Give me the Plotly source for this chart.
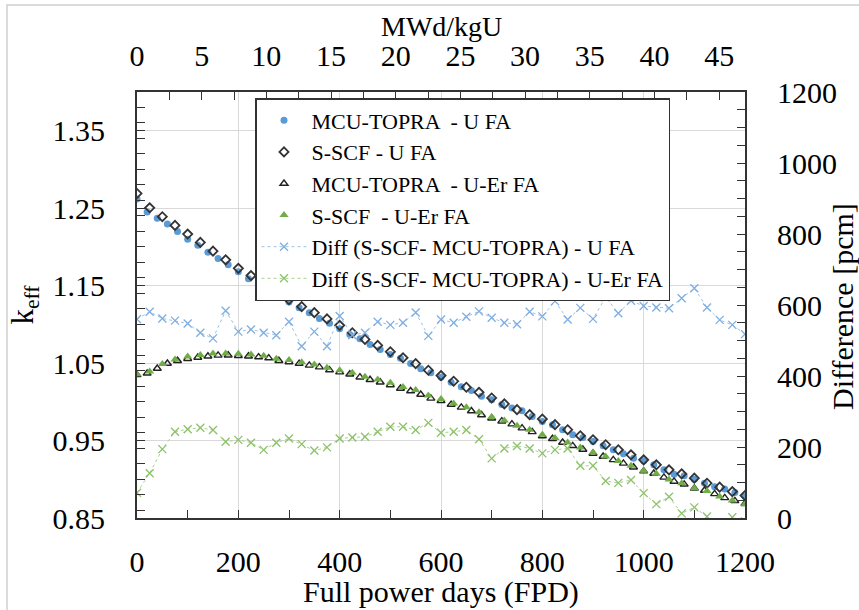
import plotly.graph_objects as go

# ---------------- data ----------------
fpd_mcu = list(range(0, 1201, 20))      # MCU-TOPRA burnup steps (FPD)
fpd_scf = list(range(0, 1201, 25))      # S-SCF burnup steps (FPD)

keff_mcu_u = [1.262, 1.245, 1.237, 1.2295, 1.220, 1.210, 1.202, 1.193, 1.185, 1.177,
              1.168, 1.159, 1.152, 1.144, 1.135, 1.129, 1.1216, 1.1151, 1.1076, 1.1013,
              1.0944, 1.0870, 1.0815, 1.0741, 1.0676, 1.0611, 1.0563, 1.0495, 1.0426, 1.0374,
              1.0317, 1.0253, 1.0193, 1.0145, 1.0071, 1.0028, 0.9964, 0.9921, 0.9886, 0.9812,
              0.9747, 0.9705, 0.9640, 0.9575, 0.9540, 0.9488, 0.9433, 0.9381, 0.9329, 0.9273,
              0.9238, 0.9187, 0.9122, 0.9066, 0.9044, 0.9001, 0.8949, 0.8905, 0.8876, 0.8828,
              0.8776]

keff_scf_u = [1.2690, 1.2505, 1.2390, 1.2278, 1.2166, 1.2058, 1.1945, 1.1833, 1.1723, 1.1630,
              1.1520, 1.1424, 1.1318, 1.1229, 1.1151, 1.1070, 1.0987, 1.0892, 1.0806, 1.0728,
              1.0646, 1.0569, 1.0493, 1.0408, 1.0339, 1.0266, 1.0188, 1.0123, 1.0050, 0.9973,
              0.9899, 0.9834, 0.9778, 0.9705, 0.9640, 0.9562, 0.9510, 0.9446, 0.9381, 0.9316,
              0.9251, 0.9187, 0.9122, 0.9070, 0.9014, 0.8949, 0.8898, 0.8841, 0.8790]

keff_mcu_uer = [1.0348, 1.0368, 1.0430, 1.0495, 1.0530, 1.0557, 1.0572, 1.0588, 1.0600, 1.0601,
                1.0595, 1.0589, 1.0578, 1.0565, 1.0530, 1.0515, 1.0494, 1.0470, 1.0448, 1.0410,
                1.0384, 1.0356, 1.0318, 1.0285, 1.0253, 1.0218, 1.0172, 1.0140, 1.0095, 1.0045,
                1.0013, 0.9965, 0.9928, 0.9882, 0.9830, 0.9788, 0.9750, 0.9712, 0.9660, 0.9612,
                0.9558, 0.9523, 0.9475, 0.9432, 0.9385, 0.9333, 0.9294, 0.9250, 0.9205, 0.9155,
                0.9105, 0.9075, 0.9025, 0.8972, 0.8935, 0.8883, 0.8855, 0.8812, 0.8760, 0.8722,
                0.8684]

keff_scf_uer = [1.0356, 1.0390, 1.0487, 1.0547, 1.0585, 1.0605, 1.0624, 1.0624, 1.0620, 1.0611,
                1.0594, 1.0556, 1.0540, 1.0512, 1.0482, 1.0439, 1.0408, 1.0374, 1.0323, 1.0287,
                1.0245, 1.0190, 1.0152, 1.0080, 1.0037, 0.9977, 0.9929, 0.9864, 0.9804, 0.9760,
                0.9692, 0.9640, 0.9575, 0.9532, 0.9475, 0.9410, 0.9346, 0.9294, 0.9235, 0.9174,
                0.9111, 0.9070, 0.8997, 0.8949, 0.8885, 0.8848, 0.8776, 0.8727, 0.8681]

diff_u = [560, 581, 562, 556, 548, 522, 506, 584, 525, 531,
          522, 515, 553, 484, 525, 484, 569, 515, 522, 553,
          544, 550, 579, 513, 559, 550, 567, 582, 564, 550,
          546, 581, 568, 611, 559, 592, 561, 622, 577, 612,
          597, 593, 591, 619, 647, 593, 558, 544, 518]

diff_uer = [71, 126, 194, 243, 250, 254, 248, 215, 220, 212,
            192, 212, 224, 208, 190, 199, 224, 227, 229, 243,
            257, 257, 248, 268, 240, 243, 248, 222, 168, 196,
            203, 196, 182, 192, 196, 147, 147, 104, 99, 107,
            70, 39, 60, 13, 30, 4, -20, 2, -10]

top_range = [0, 47]   # MWd/kgU matching 0-1200 FPD

# ---------------- geometry helpers ----------------
W, H = 859, 610
L, R, T, B = 137, 745, 92, 518


def px(x):
    return (x - L) / (R - L)


def py(y):
    return (B - y) / (B - T)


FONT = "Liberation Serif"
AX = "#333333"
GRID = "#d9d9d9"

fig = go.Figure()

fig.add_trace(go.Scatter(x=fpd_mcu, y=keff_mcu_u, mode="markers", name="MCU-TOPRA  - U FA",
                         marker=dict(symbol="circle", size=7, color="#5B9BD5")))
fig.add_trace(go.Scatter(x=fpd_scf, y=keff_scf_u, mode="markers", name="S-SCF - U FA",
                         marker=dict(symbol="diamond-open", size=7, color="#333333",
                                     line=dict(width=1.8, color="#333333"))))
fig.add_trace(go.Scatter(x=fpd_mcu, y=keff_mcu_uer, mode="markers", name="MCU-TOPRA  - U-Er FA",
                         marker=dict(symbol="triangle-up-open", size=7, color="#222222",
                                     line=dict(width=1.4, color="#222222"))))
fig.add_trace(go.Scatter(x=fpd_scf, y=keff_scf_uer, mode="markers", name="S-SCF  - U-Er FA",
                         marker=dict(symbol="triangle-up", size=8, color="#70AD47")))
fig.add_trace(go.Scatter(x=fpd_scf, y=diff_u, mode="lines+markers", yaxis="y2",
                         name="Diff (S-SCF- MCU-TOPRA) - U FA",
                         line=dict(color="#9DC3E6", width=1, dash="dot"),
                         marker=dict(symbol="x-thin-open", size=8, color="#7FAEE0",
                                     line=dict(width=1.3, color="#7FAEE0"))))
fig.add_trace(go.Scatter(x=fpd_scf, y=diff_uer, mode="lines+markers", yaxis="y2",
                         name="Diff (S-SCF- MCU-TOPRA) - U-Er FA",
                         line=dict(color="#A9D18E", width=1, dash="dot"),
                         marker=dict(symbol="x-thin-open", size=8, color="#8CC26A",
                                     line=dict(width=1.3, color="#8CC26A"))))
# helper trace to bind the top burnup axis
fig.add_trace(go.Scatter(x=top_range, y=[None, None], xaxis="x2", mode="markers",
                         showlegend=False, hoverinfo="skip"))

tick_common = dict(ticks="inside", ticklen=8, tickwidth=1.3, tickcolor=AX,
                   showline=True, linecolor=AX, linewidth=2, zeroline=False,
                   tickfont=dict(family=FONT, size=30, color="black"))

fig.update_layout(
    width=W, height=H,
    margin=dict(l=L, r=W - R, t=T, b=H - B),
    paper_bgcolor="white", plot_bgcolor="white",
    font=dict(family=FONT, color="black"),
    xaxis=dict(range=[0, 1200], tick0=0, dtick=200, showgrid=True, gridcolor=GRID, gridwidth=1,
               minor=dict(dtick=100, ticks="inside", ticklen=8, tickcolor=AX, tickwidth=1.3,
                          showgrid=False),
               ticklabelstandoff=16,
               **tick_common),
    xaxis2=dict(range=top_range, overlaying="x", side="top", anchor="y", tick0=0, dtick=5,
                showgrid=False,
                minor=dict(dtick=2.5, ticks="inside", ticklen=8, tickcolor=AX, tickwidth=1.3,
                           showgrid=False),
                ticklabelstandoff=12,
                **tick_common),
    yaxis=dict(range=[0.85, 1.40], tick0=0.85, dtick=0.1, tickformat=".2f",
               showgrid=True, gridcolor=GRID, gridwidth=1,
               minor=dict(dtick=0.02, ticks="inside", ticklen=8, tickcolor=AX, tickwidth=1.3,
                          showgrid=False),
               ticklabelstandoff=24,
               title=dict(text="k<sub>eff</sub>", font=dict(family=FONT, size=31), standoff=10),
               **tick_common),
    yaxis2=dict(range=[0, 1200], overlaying="y", side="right", anchor="x", tick0=0, dtick=200,
                showgrid=False,
                minor=dict(dtick=50, ticks="inside", ticklen=8, tickcolor=AX, tickwidth=1.3,
                           showgrid=False),
                ticklabelstandoff=24,
                **tick_common),
    legend=dict(x=px(255), y=py(98), xanchor="left", yanchor="top",
                bgcolor="white", bordercolor=AX, borderwidth=1.5,
                font=dict(family=FONT, size=22, color="black"),
                tracegroupgap=0, itemwidth=45),
    showlegend=True,
)

fig.add_annotation(text="Full power days (FPD)", xref="paper", yref="paper",
                   x=0.5, y=py(592), xanchor="center", yanchor="middle", showarrow=False,
                   font=dict(family=FONT, size=30, color="black"))
fig.add_annotation(text="MWd/kgU", xref="paper", yref="paper",
                   x=0.5, y=py(26), xanchor="center", yanchor="middle", showarrow=False,
                   font=dict(family=FONT, size=28, color="black"))
fig.add_annotation(text="Difference [pcm]", xref="paper", yref="paper",
                   x=px(842), y=py(307), xanchor="center", yanchor="middle",
                   textangle=-90, showarrow=False,
                   font=dict(family=FONT, size=30, color="black"))

# faint outer frame of the original figure
fig.add_shape(type="rect", xref="paper", yref="paper",
              x0=px(7), y0=py(613), x1=px(862), y1=py(5),
              line=dict(color="#d0d0d0", width=1.5), fillcolor="rgba(0,0,0,0)", layer="below")

fig.write_html("out.html")
